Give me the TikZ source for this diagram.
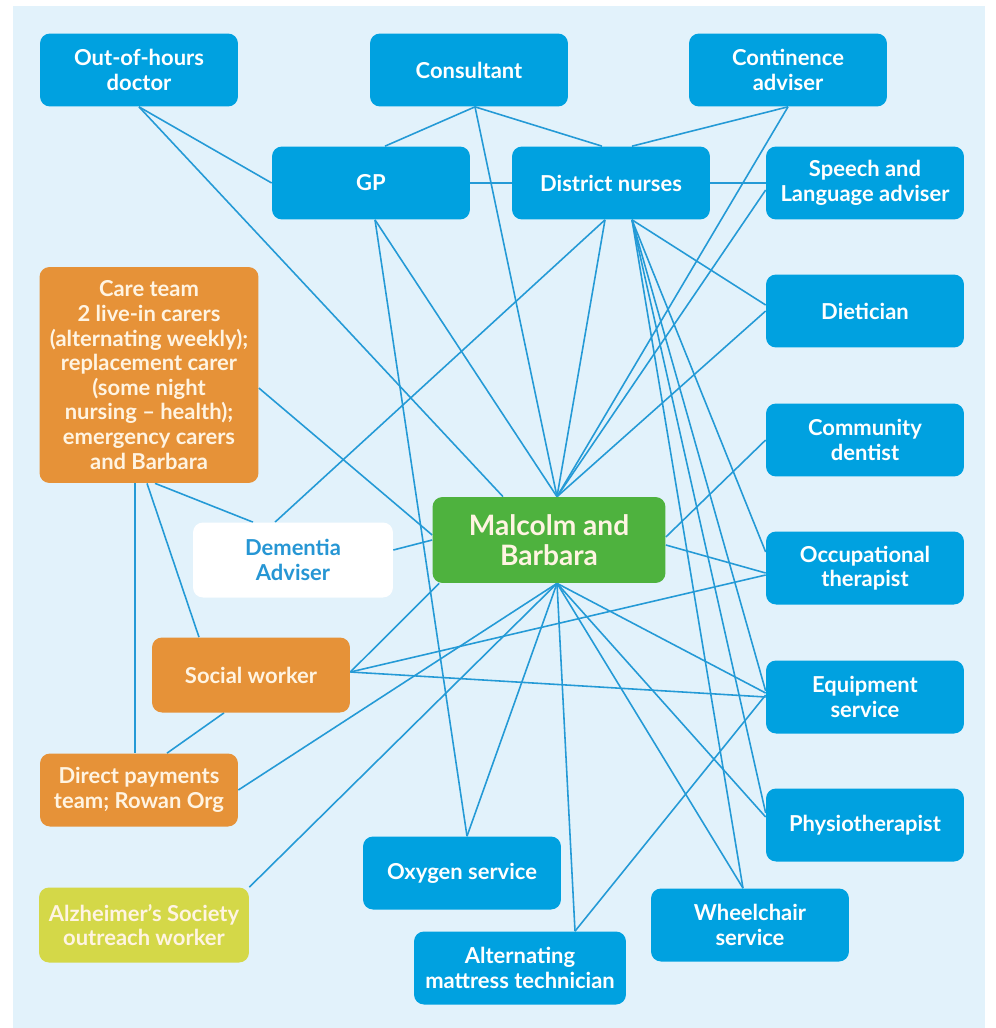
\documentclass[tikz,border=0pt]{standalone}
\usepackage{fontspec}
\setmainfont{Lato}
\usepackage{tikz}
\usetikzlibrary{positioning,calc,backgrounds}
\definecolor{svcblue}{RGB}{0,161,224}
\definecolor{linkblue}{RGB}{36,154,214}
\definecolor{careorange}{RGB}{230,146,56}
\definecolor{hubgreen}{RGB}{78,178,62}
\definecolor{alzlime}{RGB}{212,216,72}
\definecolor{paleblue}{RGB}{226,242,251}
\definecolor{textblue}{RGB}{38,150,212}
\definecolor{cream}{RGB}{255,244,226}
\begin{document}
\begin{tikzpicture}[x=0.02cm,y=-0.02cm,
  box/.style={rounded corners=0.2cm,minimum width=3.96cm,minimum height=1.46cm,align=center,text=white,inner sep=2pt,font=\fontsize{12.5}{14}\selectfont\bfseries},
  service/.style={box,fill=svcblue},
  carer/.style={box,fill=careorange,text=cream},
  hub/.style={box,fill=hubgreen,text=cream,minimum width=4.66cm,minimum height=1.72cm,font=\fontsize{16}{17}\selectfont\bfseries},
  link/.style={linkblue,line width=0.9pt}]
\useasboundingbox (0,0) rectangle (996,1028);
\node[service] (ooh) at (139,70) {Out-of-hours\\doctor};
\node[service] (cons) at (469,70) {Consultant};
\node[service] (cont) at (788,70) {Continence\\adviser};
\node[service] (gp) at (371,183) {GP};
\node[service] (dn) at (611,183) {District nurses};
\node[service] (spl) at (865,183) {Speech and\\Language adviser};
\node[carer,minimum width=4.38cm,minimum height=4.32cm] (ct) at (149,375) {Care team\\2 live-in carers\\(alternating weekly);\\replacement carer\\(some night\\nursing -- health);\\emergency carers\\and Barbara};
\node[service] (diet) at (865,311) {Dietician};
\node[service] (dent) at (865,440) {Community\\dentist};
\node[box,fill=white,text=textblue,minimum width=4cm,minimum height=1.5cm] (dem) at (293,560) {Dementia\\Adviser};
\node[hub] (mb) at (549,540) {Malcolm and\\Barbara};
\node[service] (ot) at (865,568) {Occupational\\therapist};
\node[carer,minimum height=1.5cm] (sw) at (251,675) {Social worker};
\node[service] (eq) at (865,697) {Equipment\\service};
\node[carer] (dp) at (139,790) {Direct payments\\team; Rowan Org};
\node[service] (phys) at (865,825) {Physiotherapist};
\node[service] (oxy) at (462,873) {Oxygen service};
\node[box,fill=alzlime,text=cream,minimum width=4.2cm,minimum height=1.5cm] (alz) at (144,925) {Alzheimer's Society\\outreach worker};
\node[service] (wc) at (750,925) {Wheelchair\\service};
\node[service,minimum width=4.24cm] (mat) at (520,968) {Alternating\\mattress technician};
\begin{scope}[on background layer]
\fill[paleblue] (13,6) rectangle (985,1028);
\draw[link] (ooh.south) -- (gp.west);
\draw[link] (ooh.south) -- ($(mb.north)+(-46,0)$);
\draw[link] ($(cons.south)+(6,0)$) -- ($(gp.north)+(14,0)$);
\draw[link] ($(cons.south)+(6,0)$) -- ($(dn.north)+(-9,0)$);
\draw[link] ($(cons.south)+(6,0)$) -- ($(mb.north)+(8,0)$);
\draw[link] (cont.south) -- ($(dn.north)+(21,0)$);
\draw[link] (cont.south) -- ($(mb.north)+(8,0)$);
\draw[link] (gp) -- (dn);
\draw[link] (dn) -- (spl);
\draw[link] ($(gp.south)+(4,0)$) -- ($(mb.north)+(8,0)$);
\draw[link] ($(gp.south)+(4,0)$) -- ($(oxy.north)+(5,0)$);
\draw[link] ($(dn.south)+(-6,0)$) -- ($(dem.north)+(-18,0)$);
\draw[link] ($(dn.south)+(-6,0)$) -- ($(mb.north)+(8,0)$);
\draw[link] ($(spl.west)+(0,7)$) -- ($(mb.north)+(8,0)$);
\draw[link] (diet.west) -- ($(mb.north)+(8,0)$);
\draw[link] ($(dn.south)+(21,0)$) -- ($(diet.west)+(0,-6)$);
\draw[link] ($(dn.south)+(21,0)$) -- ($(ot.west)+(0,-16)$);
\draw[link] ($(dn.south)+(21,0)$) -- ($(eq.west)+(0,-6)$);
\draw[link] ($(dn.south)+(21,0)$) -- ($(phys.west)+(0,-12)$);
\draw[link] ($(dn.south)+(21,0)$) -- ($(wc.north)+(-7,0)$);
\draw[link] (dent.west) -- ($(mb.east)+(0,-3)$);
\draw[link] ($(mb.east)+(0,5)$) -- ($(ot.west)+(0,5)$);
\draw[link] ($(sw.east)+(0,-3)$) -- ($(ot.west)+(0,7)$);
\draw[link] ($(sw.east)+(0,-3)$) -- (eq.west);
\draw[link] ($(sw.east)+(0,-3)$) -- ($(mb.south west)+(7,0)$);
\draw[link] ($(mb.south)+(8,0)$) -- ($(eq.west)+(0,-4)$);
\draw[link] ($(mb.south)+(8,0)$) -- ($(phys.west)+(0,-8)$);
\draw[link] ($(mb.south)+(8,0)$) -- ($(wc.north)+(-7,0)$);
\draw[link] ($(mb.south)+(8,0)$) -- ($(mat.north)+(55,0)$);
\draw[link] ($(mb.south)+(8,0)$) -- ($(oxy.north)+(5,0)$);
\draw[link] ($(eq.west)+(0,-2)$) -- ($(mat.north)+(55,0)$);
\draw[link] (dp.east) -- ($(mb.south)+(8,0)$);
\draw[link] (alz.north east) -- ($(mb.south)+(8,0)$);
\draw[link] ($(dp.north)+(28,0)$) -- ($(sw.south)+(-27,0)$);
\draw[link] ($(ct.south)+(-14,0)$) -- ($(dp.north)+(-4,0)$);
\draw[link] ($(ct.south)+(-2,0)$) -- ($(sw.north)+(-52,0)$);
\draw[link] ($(ct.south)+(6,0)$) -- ($(dem.north)+(-40,0)$);
\draw[link] ($(ct.east)+(0,13)$) -- ($(mb.west)+(0,-5)$);
\draw[link] ($(dem.east)+(0,-10)$) -- (mb.west);
\end{scope}
\end{tikzpicture}
\end{document}
